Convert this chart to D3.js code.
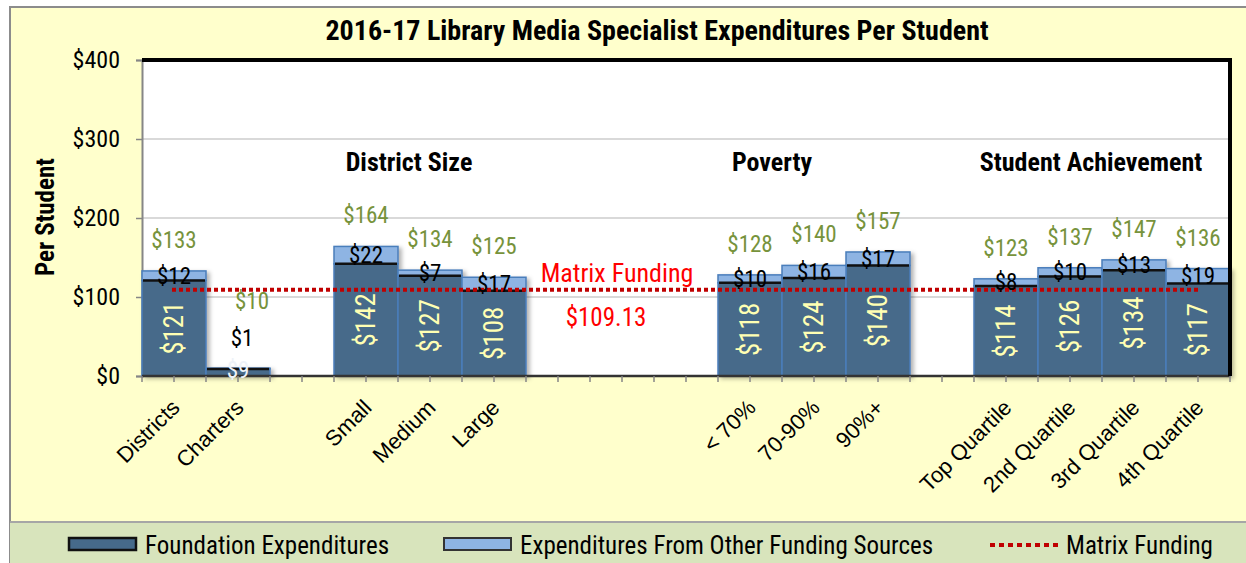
<!DOCTYPE html>
<html>
<head>
<meta charset="utf-8">
<script src="https://cdn.jsdelivr.net/npm/d3@7"></script>
<style>
  body { margin: 0; background: #fff; }
  svg { display: block; }
  .narrow { font-family: "Liberation Sans Narrow", "Arial Narrow", "Roboto Condensed", sans-serif; }
</style>
</head>
<body>
<svg></svg>
<script>
var width = 1246, height = 563;

// categories, blanks are spacer slots
var categories = ["Districts", "Charters", "_1", "Small", "Medium", "Large", "_2", "_3", "_4",
  "< 70%", "70-90%", "90%+", "_5", "Top Quartile", "2nd Quartile", "3rd Quartile", "4th Quartile"];
var barCats = ["Districts", "Charters", "Small", "Medium", "Large", "< 70%", "70-90%", "90%+",
  "Top Quartile", "2nd Quartile", "3rd Quartile", "4th Quartile"];
var foundation = [121, 9, 142, 127, 108, 118, 124, 140, 114, 126, 134, 117];
var otherSources = [12, 1, 22, 7, 17, 10, 16, 17, 8, 10, 13, 19];
var totals = [133, 10, 164, 134, 125, 128, 140, 157, 123, 137, 147, 136];
var matrixFunding = 109.13;
var yTicks = [0, 100, 200, 300, 400];
var groupLabels = ["District Size", "Poverty", "Student Achievement"];
var groupStart = ["Small", "< 70%", "Top Quartile"];
var legendItems = ["Foundation Expenditures", "Expenditures From Other Funding Sources", "Matrix Funding"];

var bars = barCats.map(function(c, i) {
  return { cat: c, f: foundation[i], o: otherSources[i], t: totals[i] };
});

var svg = d3.select("svg").attr("width", width).attr("height", height);

var defs = svg.append("defs");
var filt = defs.append("filter").attr("id", "shadow").attr("x", "-10%").attr("y", "-10%")
  .attr("width", "130%").attr("height", "130%");
filt.append("feDropShadow").attr("dx", 3).attr("dy", 2).attr("stdDeviation", 2)
  .attr("flood-color", "#000").attr("flood-opacity", 0.3);

// outer frame
svg.append("rect").attr("x", 0).attr("y", 0).attr("width", width).attr("height", height).attr("fill", "#fff");
svg.append("rect").attr("x", 10).attr("y", 7).attr("width", width).attr("height", height)
  .attr("fill", "#FFFFCC").attr("stroke", "#8C8C8C").attr("stroke-width", 2);

var plot = { left: 142, right: 1230, top: 60, bottom: 376 };

var x = d3.scaleBand().domain(categories).range([plot.left, plot.right]).padding(0);
var y = d3.scaleLinear().domain([0, 400]).range([plot.bottom, plot.top]);
var mid = function(c) { return x(c) + x.bandwidth() / 2; };

// title
svg.append("text").attr("class", "narrow")
  .attr("x", 657).attr("y", 40).attr("text-anchor", "middle")
  .attr("font-size", "28px").attr("font-weight", "bold").attr("fill", "#000")
  .text("2016-17 Library Media Specialist Expenditures Per Student");

// plot background
svg.append("rect").attr("x", plot.left).attr("y", plot.top)
  .attr("width", plot.right - plot.left).attr("height", plot.bottom - plot.top).attr("fill", "#fff");

// gridlines
svg.append("g").selectAll("line").data(yTicks.filter(function(d) { return d > 0 && d < 400; }))
  .enter().append("line")
  .attr("x1", plot.left).attr("x2", plot.right)
  .attr("y1", function(d) { return y(d); }).attr("y2", function(d) { return y(d); })
  .attr("stroke", "#D9D9D9").attr("stroke-width", 2);

// y axis
var yAxis = d3.axisLeft(y).tickValues(yTicks).tickSize(6).tickPadding(16)
  .tickFormat(function(d) { return "$" + d; });
var yg = svg.append("g").attr("transform", "translate(" + plot.left + ",0)").call(yAxis);
yg.select(".domain").attr("stroke", "#868686").attr("stroke-width", 2);
yg.selectAll(".tick line").attr("stroke", "#868686").attr("stroke-width", 1.5);
yg.selectAll(".tick text").attr("class", "narrow").attr("font-size", "24px").attr("fill", "#000");

svg.append("text").attr("class", "narrow")
  .attr("transform", "translate(54," + 217 + ") rotate(-90)")
  .attr("text-anchor", "middle")
  .attr("font-size", "25px").attr("font-weight", "bold")
  .attr("textLength", 118).attr("lengthAdjust", "spacingAndGlyphs")
  .text("Per Student");

// bars
var bg = svg.append("g").attr("filter", "url(#shadow)");
bg.selectAll("rect.found").data(bars).enter().append("rect").attr("class", "found")
  .attr("x", function(d) { return x(d.cat); }).attr("width", x.bandwidth())
  .attr("y", function(d) { return y(d.f); })
  .attr("height", function(d) { return y(0) - y(d.f); })
  .attr("fill", "#466A8A").attr("stroke", "#4A7EBB").attr("stroke-width", 1.5);
bg.selectAll("rect.other").data(bars).enter().append("rect").attr("class", "other")
  .attr("x", function(d) { return x(d.cat); }).attr("width", x.bandwidth())
  .attr("y", function(d) { return y(d.t); })
  .attr("height", function(d) { return y(d.f) - y(d.t); })
  .attr("fill", "#8EB4E3").attr("stroke", "#4A7EBB").attr("stroke-width", 1.5);

svg.append("g").selectAll("line").data(bars).enter().append("line")
  .attr("x1", function(d) { return x(d.cat) + 1; })
  .attr("x2", function(d) { return x(d.cat) + x.bandwidth() - 1; })
  .attr("y1", function(d) { return y(d.f); }).attr("y2", function(d) { return y(d.f); })
  .attr("stroke", "#111").attr("stroke-width", 2.5);

// x axis
var xTickPos = [];
categories.forEach(function(c) { xTickPos.push(x(c)); xTickPos.push(mid(c)); });
xTickPos.push(plot.right);
svg.append("line").attr("x1", plot.left).attr("x2", plot.right)
  .attr("y1", plot.bottom).attr("y2", plot.bottom).attr("stroke", "#333").attr("stroke-width", 2.5);
svg.append("g").selectAll("line").data(xTickPos).enter().append("line")
  .attr("x1", function(d) { return d; }).attr("x2", function(d) { return d; })
  .attr("y1", plot.bottom).attr("y2", plot.bottom + 6)
  .attr("stroke", "#868686").attr("stroke-width", 1.5);

svg.append("g").selectAll("text").data(barCats).enter().append("text")
  .attr("transform", function(d) {
    return "translate(" + (mid(d) + 7) + "," + (plot.bottom + 33) + ") rotate(-45)";
  })
  .attr("text-anchor", "end").attr("font-family", "Liberation Sans, Arial, sans-serif")
  .attr("font-size", "22px").attr("fill", "#000")
  .text(function(d) { return d; });

// plot frame: heavy top and right
svg.append("line").attr("x1", plot.left).attr("x2", plot.right + 2)
  .attr("y1", plot.top).attr("y2", plot.top).attr("stroke", "#000").attr("stroke-width", 4);
svg.append("line").attr("x1", plot.right).attr("x2", plot.right)
  .attr("y1", plot.top).attr("y2", plot.bottom).attr("stroke", "#000").attr("stroke-width", 4);

// matrix funding line
svg.append("line")
  .attr("x1", mid("Districts") - 2)
  .attr("x2", mid("4th Quartile"))
  .attr("y1", y(matrixFunding)).attr("y2", y(matrixFunding))
  .attr("stroke", "#C00000").attr("stroke-width", 4).attr("stroke-dasharray", "4,3");

svg.append("text").attr("class", "narrow")
  .attr("x", 617).attr("y", y(matrixFunding) - 8).attr("text-anchor", "middle")
  .attr("font-size", "26px").attr("fill", "#FF0000").text("Matrix Funding");
svg.append("text").attr("class", "narrow")
  .attr("x", 606).attr("y", y(matrixFunding) + 36).attr("text-anchor", "middle")
  .attr("font-size", "25px").attr("fill", "#FF0000").text("$" + matrixFunding.toFixed(2));

// group labels (nudged to where the original chart placed them)
var groupNudge = [75, 54, 117];
svg.append("g").selectAll("text").data(groupLabels).enter().append("text").attr("class", "narrow")
  .attr("x", function(d, i) { return x(groupStart[i]) + groupNudge[i]; })
  .attr("y", 171).attr("text-anchor", "middle")
  .attr("font-size", "26px").attr("font-weight", "bold").attr("fill", "#000")
  .text(function(d) { return d; });

// value labels
var small = function(d) { return d.t < 50; };
svg.append("g").selectAll("text").data(bars).enter().append("text").attr("class", "narrow")
  .attr("x", function(d) { return mid(d.cat) + (small(d) ? 14 : 0); })
  .attr("y", function(d) { return small(d) ? y(95) : y(d.t) - 31; })
  .attr("dy", "0.35em").attr("text-anchor", "middle")
  .attr("font-size", "23px").attr("fill", "#77933C")
  .text(function(d) { return "$" + d.t; });

svg.append("g").selectAll("text").data(bars).enter().append("text").attr("class", "narrow")
  .attr("x", function(d) { return mid(d.cat) + (small(d) ? 4 : 0); })
  .attr("y", function(d) { return small(d) ? y(48) : (y(d.f) + y(d.t)) / 2; })
  .attr("dy", "0.35em").attr("text-anchor", "middle")
  .attr("font-size", "23px").attr("fill", "#000")
  .text(function(d) { return "$" + d.o; });

svg.append("g").selectAll("text").data(bars).enter().append("text").attr("class", "narrow")
  .attr("transform", function(d) {
    if (small(d)) return "translate(" + mid(d.cat) + "," + (plot.bottom + 2) + ")";
    return "translate(" + mid(d.cat) + "," + y(d.f / 2) + ") rotate(-90)";
  })
  .attr("dy", function(d) { return small(d) ? "0" : "0.35em"; })
  .attr("text-anchor", "middle")
  .attr("font-size", function(d) { return small(d) ? "23px" : "27px"; })
  .attr("fill", function(d) { return small(d) ? "#EEF2F8" : "#FFFFB3"; })
  .text(function(d) { return "$" + d.f; });

// legend
var ly = 522;
svg.append("rect").attr("x", 10).attr("y", ly).attr("width", width).attr("height", height - ly)
  .attr("fill", "#D8E4BC");
svg.append("line").attr("x1", 10).attr("x2", width).attr("y1", ly).attr("y2", ly)
  .attr("stroke", "#A6A6A6").attr("stroke-width", 2);

var lg = svg.append("g");
lg.append("rect").attr("x", 69).attr("y", 538).attr("width", 67).attr("height", 12)
  .attr("fill", "#466A8A").attr("stroke", "#111").attr("stroke-width", 2.5);
lg.append("rect").attr("x", 444).attr("y", 538).attr("width", 67).attr("height", 12)
  .attr("fill", "#8EB4E3").attr("stroke", "#333").attr("stroke-width", 2);
lg.append("line").attr("x1", 990).attr("x2", 1058).attr("y1", 545).attr("y2", 545)
  .attr("stroke", "#C00000").attr("stroke-width", 4).attr("stroke-dasharray", "5,4");
var lx = [145, 520, 1066];
lg.selectAll("text").data(legendItems).enter().append("text").attr("class", "narrow")
  .attr("x", function(d, i) { return lx[i]; }).attr("y", 554)
  .attr("font-size", "25px").attr("fill", "#000")
  .text(function(d) { return d; });
</script>
</body>
</html>
